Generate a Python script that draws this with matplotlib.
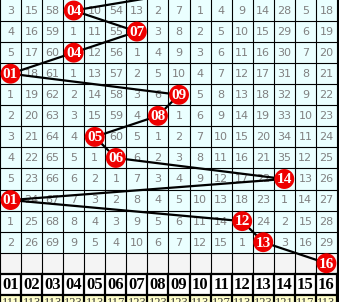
import matplotlib.pyplot as plt
from matplotlib.patches import Rectangle

# missing-count grid, 0 marks the drawn number's cell
miss = [
    [3, 15, 58, 0, 10, 54, 13, 2, 7, 1, 4, 9, 14, 28, 5, 18],
    [4, 16, 59, 1, 11, 55, 0, 3, 8, 2, 5, 10, 15, 29, 6, 19],
    [5, 17, 60, 0, 12, 56, 1, 4, 9, 3, 6, 11, 16, 30, 7, 20],
    [0, 18, 61, 1, 13, 57, 2, 5, 10, 4, 7, 12, 17, 31, 8, 21],
    [1, 19, 62, 2, 14, 58, 3, 6, 0, 5, 8, 13, 18, 32, 9, 22],
    [2, 20, 63, 3, 15, 59, 4, 0, 1, 6, 9, 14, 19, 33, 10, 23],
    [3, 21, 64, 4, 0, 60, 5, 1, 2, 7, 10, 15, 20, 34, 11, 24],
    [4, 22, 65, 5, 1, 0, 6, 2, 3, 8, 11, 16, 21, 35, 12, 25],
    [5, 23, 66, 6, 2, 1, 7, 3, 4, 9, 12, 17, 22, 0, 13, 26],
    [0, 24, 67, 7, 3, 2, 8, 4, 5, 10, 13, 18, 23, 1, 14, 27],
    [1, 25, 68, 8, 4, 3, 9, 5, 6, 11, 14, 0, 24, 2, 15, 28],
    [2, 26, 69, 9, 5, 4, 10, 6, 7, 12, 15, 1, 0, 3, 16, 29],
]
balls = [4, 7, 4, 1, 9, 8, 5, 6, 14, 1, 12, 13, 16]
prev_ball = 10
headers = ["%02d" % i for i in range(1, 17)]
totals = [111, 113, 113, 123, 113, 117, 123, 123, 123, 113, 127, 113, 123, 121, 117, 113]

ncol = 16
nrow_data = len(miss)
r_empty = nrow_data
r_head = nrow_data + 1
r_tot = nrow_data + 2
cw = 21.06

fig = plt.figure(figsize=(3.39, 3.02), dpi=100, facecolor="black")
ax = fig.add_axes([0, 0, 1, 1])
ax.set_xlim(0, 339 / cw)
ax.set_ylim(302 / cw, 0)
ax.axis("off")
ax.set_facecolor("black")

# backgrounds
ax.add_patch(Rectangle((0, 0), ncol, nrow_data, facecolor="#eaffff", edgecolor="none", zorder=0))
ax.add_patch(Rectangle((0, r_empty), ncol, 1, facecolor="#f4f4f4", edgecolor="none", zorder=0))
ax.add_patch(Rectangle((0, r_head), ncol, 1, facecolor="white", edgecolor="none", zorder=0))
ax.add_patch(Rectangle((0, r_tot), ncol, 2, facecolor="#ffffcc", edgecolor="none", zorder=0))

# grid
for c in range(ncol + 1):
    ax.plot([c, c], [0, r_head], color="black", lw=0.8, zorder=1)
    ax.plot([c, c], [r_head, r_tot + 1], color="black", lw=1.6, zorder=1)
for r in range(1, r_tot + 1):
    lw = 1.6 if r in (r_head, r_tot) else 0.8
    ax.plot([0, ncol], [r, r], color="black", lw=lw, zorder=1)
ax.add_patch(Rectangle((ncol + 0.02, 0), 2, 20, facecolor="black", edgecolor="none", zorder=1))

# cell numbers
for r, row in enumerate(miss):
    for c, v in enumerate(row):
        if v:
            ax.text(c + 0.5, r + 0.52, str(v), ha="center", va="center",
                    fontsize=8, color="#808080", zorder=2)

for c, h in enumerate(headers):
    ax.text(c + 0.5, r_head + 0.55, h, ha="center", va="center", fontsize=12,
            fontweight="bold", family="Liberation Serif", color="black", zorder=2)
for c, t in enumerate(totals):
    ax.text(c + 0.5, r_tot + 0.1, str(t), ha="center", va="top", fontsize=9,
            family="Liberation Serif", color="#333333", zorder=2)

# trend line
xs = [prev_ball - 0.5] + [b - 0.5 for b in balls]
ys = [-0.5] + [r + 0.5 for r in range(len(balls))]
ax.plot(xs, ys, color="black", lw=1.6, zorder=3, solid_capstyle="round")

# balls
bx = [b - 0.5 for b in balls]
by = [r + 0.5 for r in range(len(balls))]
ax.scatter(bx, by, s=205, color="#ee0000", edgecolors="none", zorder=4)
for x, y, b in zip(bx, by, balls):
    ax.text(x, y + 0.04, "%02d" % b, ha="center", va="center", fontsize=11,
            fontweight="bold", family="Liberation Serif", color="white", zorder=5)

fig.savefig("out.png", dpi=100, facecolor="black")
